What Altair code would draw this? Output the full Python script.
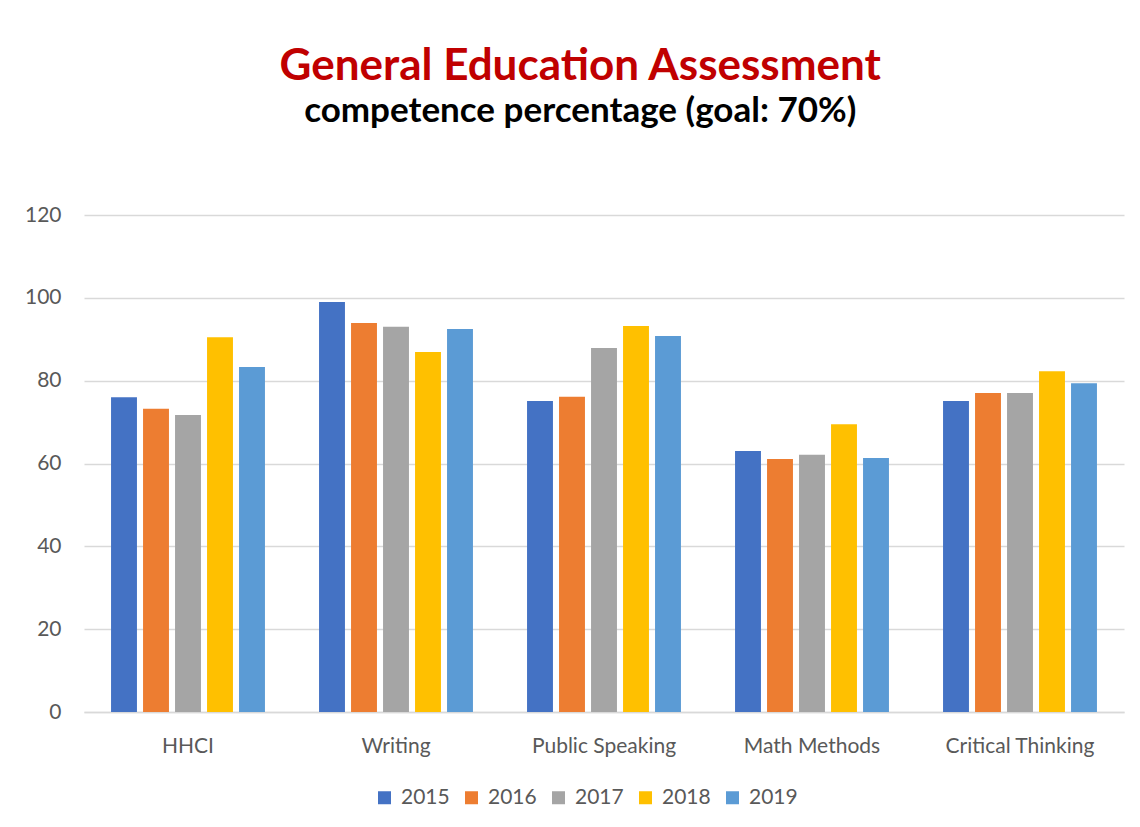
import altair as alt
import pandas as pd

categories = ["HHCI", "Writing", "Public Speaking", "Math Methods", "Critical Thinking"]
years = ["2015", "2016", "2017", "2018", "2019"]
v2015 = [76.0, 99.0, 75.1, 63.0, 75.1]
v2016 = [73.2, 93.9, 76.1, 61.1, 77.0]
v2017 = [71.7, 93.0, 87.9, 62.1, 77.0]
v2018 = [90.5, 86.9, 93.2, 69.5, 82.3]
v2019 = [83.3, 92.5, 90.8, 61.3, 79.4]
colors = ["#4472C4", "#ED7D31", "#A5A5A5", "#FFC000", "#5B9BD5"]
y_ticks = [0, 20, 40, 60, 80, 100, 120]

series = [v2015, v2016, v2017, v2018, v2019]
rows = []
for yr, vals in zip(years, series):
    for cat, v in zip(categories, vals):
        rows.append({"Category": cat, "Year": yr, "Value": v})
df = pd.DataFrame(rows)

FONT = "Lato"

chart = alt.Chart(df).mark_bar().encode(
    x=alt.X("Category:N", sort=categories,
            scale=alt.Scale(paddingInner=0.26, paddingOuter=0.13),
            axis=alt.Axis(title=None, labelAngle=0, ticks=False, labelPadding=23,
                          labelFontSize=21, labelColor="#595959", labelFont=FONT,
                          domainColor="#D9D9D9", domainWidth=1.5)),
    xOffset=alt.XOffset("Year:N", sort=years,
                        scale=alt.Scale(paddingInner=0.19, paddingOuter=0)),
    y=alt.Y("Value:Q", scale=alt.Scale(domain=[0, 120]),
            axis=alt.Axis(title=None, values=y_ticks, domain=False, ticks=False,
                          labelPadding=23, labelFontSize=21, labelColor="#595959",
                          labelFont=FONT, gridColor="#D9D9D9", gridWidth=1.5)),
    color=alt.Color("Year:N", scale=alt.Scale(domain=years, range=colors),
                    legend=alt.Legend(orient="none", legendX=290, legendY=572,
                                      direction="horizontal", title=None,
                                      symbolType="square", symbolSize=169,
                                      symbolStrokeWidth=0, labelFontSize=21,
                                      labelColor="#595959", labelFont=FONT,
                                      labelOffset=6, columnPadding=11)),
).properties(
    width=1040,
    height=497,
    padding={"left": 16, "top": 37, "right": 5, "bottom": 5},
    title=alt.TitleParams(
        text="General Education Assessment",
        subtitle="competence percentage (goal: 70%)",
        font=FONT, fontSize=44, fontWeight="bold", color="#C00000",
        subtitleFont=FONT, subtitleFontSize=35, subtitleFontWeight="bold",
        subtitleColor="#000000", subtitlePadding=5,
        anchor="middle", frame="bounds", dx=6, offset=75,
    ),
).configure_view(stroke=None)

chart.save("out.html", embed_options={"renderer": "svg", "actions": False})
